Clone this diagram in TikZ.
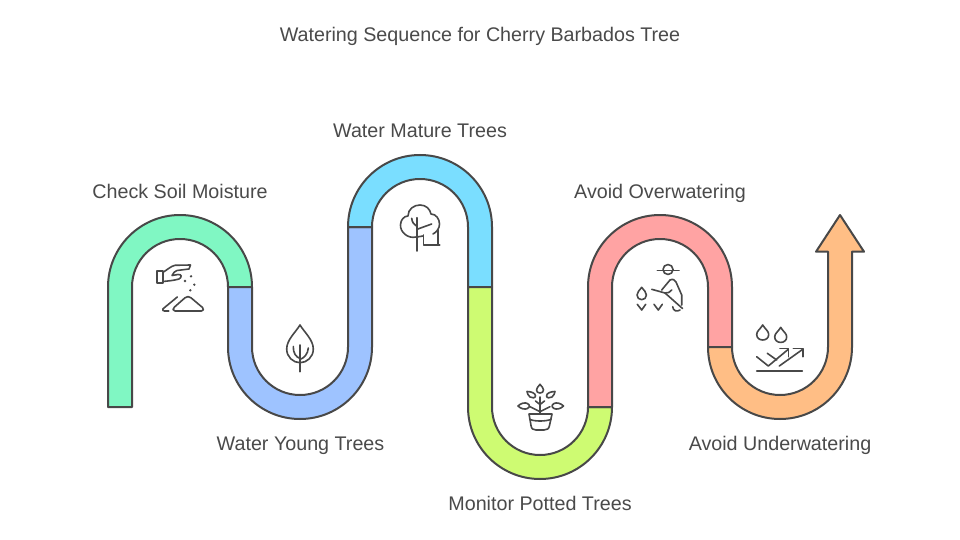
\documentclass[tikz,border=0pt]{standalone}
\usepackage{xcolor}
\usepackage{fontspec}
\setmainfont{Liberation Sans}
\definecolor{ink}{HTML}{484848}
\definecolor{txt}{HTML}{4A4A4A}
\definecolor{mint}{HTML}{80F7C3}
\definecolor{sky}{HTML}{9EC3FF}
\definecolor{aqua}{HTML}{7ADEFF}
\definecolor{lime}{HTML}{CEFB72}
\definecolor{rose}{HTML}{FFA3A3}
\definecolor{peach}{HTML}{FFBE85}
\begin{document}
\begin{tikzpicture}[x=1pt,y=-1pt]
		\tikzstyle{every node}+=[inner sep=0pt]
		\tikzstyle{pipe}=[draw=ink,line width=2pt,line join=round]
		\tikzstyle{icon}=[draw=ink,line width=1.6pt,line cap=round,line join=round]
		\tikzstyle{label}=[text=txt,anchor=base,font=\fontsize{19.7}{23}\selectfont]
		\useasboundingbox [fill=white] (0,0) rectangle (960,540);
		\draw [pipe,fill=mint] (108,407) -- (108,287) arc [start angle=180,end angle=0,radius=72pt] -- (228,287) arc [start angle=0,end angle=180,radius=48pt] -- (132,407) -- cycle;
		\draw [pipe,fill=sky] (228,287) -- (228,347) arc [start angle=180,end angle=360,radius=72pt] -- (372,227) -- (348,227) -- (348,347) arc [start angle=360,end angle=180,radius=48pt] -- (252,287) -- cycle;
		\draw [pipe,fill=aqua] (348,227) arc [start angle=180,end angle=0,radius=72pt] -- (492,287) -- (468,287) -- (468,227) arc [start angle=0,end angle=180,radius=48pt] -- cycle;
		\draw [pipe,fill=lime] (468,287) -- (468,407) arc [start angle=180,end angle=360,radius=72pt] -- (588,407) arc [start angle=360,end angle=180,radius=48pt] -- (492,287) -- cycle;
		\draw [pipe,fill=rose] (588,407) -- (588,287) arc [start angle=180,end angle=0,radius=72pt] -- (732,347) -- (708,347) -- (708,287) arc [start angle=0,end angle=180,radius=48pt] -- (612,407) -- cycle;
		\draw [pipe,fill=peach] (708,347) arc [start angle=180,end angle=360,radius=72pt] -- (852,251.7) -- (864,251.7) -- (840,215) -- (816,251.7) -- (828,251.7) -- (828,347) arc [start angle=360,end angle=180,radius=48pt] -- cycle;
		\draw [icon] (156.7,270.7) rectangle (162.7,283);
		\draw [icon] (162.7,272.5) .. controls (167,270) and (171,266) .. (175,265.3) -- (190.5,265) -- (189,269) -- (177,270.5) .. controls (175,271) and (173,273) .. (172,275.5) -- (178,274.5) .. controls (182,274) and (182,277.5) .. (179,279) .. controls (174,280.5) and (168,281) .. (162.7,281.5);
		\fill [ink] (191,276.3) circle (1.3) (185,281) circle (1.3) (194.3,284.7) circle (1.3) (190.3,290.3) circle (1.3);
		\draw [icon] (175,311) .. controls (172.5,311) and (172.5,308.5) .. (174.5,307) -- (185,297.8) .. controls (187,296.2) and (189,296.2) .. (191,297.8) -- (202.5,307.5) .. controls (204,309) and (203.5,311) .. (201.5,311) -- cycle;
		\draw [icon] (177.3,297) -- (163,308.8) .. controls (162,310) and (163,311) .. (164.5,311) -- (168.7,311);
		\draw [icon] (300,325) .. controls (295,333) and (286.7,340) .. (286.7,349) .. controls (286.7,357) and (293,362.7) .. (300,362.7) .. controls (307,362.7) and (313.3,357) .. (313.3,349) .. controls (313.3,340) and (305,333) .. (300,325) -- cycle;
		\draw [icon] (300,345) -- (300,371.7);
		\draw [icon] (293.3,346.5) .. controls (293,353) and (296,357) .. (300,358.5);
		\draw [icon] (308.3,348) .. controls (308,354) and (304,358) .. (300,359.5);
		\draw [icon] (416,237) .. controls (408,239) and (400,232) .. (400.5,225) .. controls (400.5,220) and (404,216) .. (408,216) .. controls (408,209) and (414,205) .. (420,205) .. controls (426,205) and (430,209) .. (431,214) .. controls (436,214) and (439.5,219) .. (439.5,224) .. controls (439.5,228) and (437,232) .. (433,234);
		\draw [icon] (417,217.7) -- (417,251);
		\draw [icon] (417,229.3) -- (431.7,224);
		\draw [icon] (411.7,218.3) .. controls (412,222) and (414,225) .. (417,226.5);
		\draw [icon] (423.3,235) -- (423.3,245) -- (439.7,245);
		\draw [icon] (437.7,230) -- (437.7,245);
		\draw [icon] (417,237) -- (423,236);
		\draw [icon] (540,384.3) .. controls (542,386.5) and (543.5,388.5) .. (543.5,390) .. controls (543.5,392) and (542,393) .. (540,393) .. controls (538,393) and (536.5,392) .. (536.5,390) .. controls (536.5,388.5) and (538,386.5) .. (540,384.3) -- cycle;
		\draw [icon] (527,391.5) .. controls (531,391.5) and (535.5,393) .. (535.5,396) .. controls (535.5,398) and (532,398.5) .. (530,397) .. controls (528,395.5) and (527.5,393.5) .. (527,391.5) -- cycle;
		\draw [icon] (555,391.5) .. controls (551,391.5) and (546.5,393) .. (546.5,396) .. controls (546.5,398) and (550,398.5) .. (552,397) .. controls (554,395.5) and (554.5,393.5) .. (555,391.5) -- cycle;
		\draw [icon] (518,406) .. controls (521,403) and (525,402.3) .. (527.5,403.5) .. controls (530,405) and (530,407) .. (527.5,408.5) .. controls (525,409.7) and (521,409) .. (518,406) -- cycle;
		\draw [icon] (563.5,406) .. controls (560.5,403) and (556.5,402.3) .. (554,403.5) .. controls (551.5,405) and (551.5,407) .. (554,408.5) .. controls (556.5,409.7) and (560.5,409) .. (563.5,406) -- cycle;
		\draw [icon] (540,397) -- (540,414);
		\draw [icon] (530,406.7) -- (540,411.7) -- (550,406.7);
		\draw [icon] (535.5,401) -- (540,404.5) -- (544.5,401);
		\draw [icon] (529,414) -- (552,414) -- (549.5,425.5) .. controls (549,428.8) and (547,430) .. (544,430) -- (536,430) .. controls (533,430) and (531.5,428.8) .. (531,425.5) -- cycle;
		\draw [icon] (530,419.5) .. controls (535,421.5) and (545,421.5) .. (551,419.5);
		\draw [icon] (657.3,270.3) -- (679,270.3);
		\draw [icon] (668,269.5) circle (5);
		\draw [icon] (670,280) -- (661.7,290);
		\draw [icon] (670,280) .. controls (673,278.5) and (675,280) .. (676,282) -- (681.7,295) -- (681.7,305);
		\draw [icon] (651.7,289.3) -- (665,293) .. controls (668,293.5) and (670,292) .. (671.7,290);
		\draw [icon] (665,293) -- (682.5,308.5);
		\draw [icon] (672.7,306.7) .. controls (673,311) and (677,312) .. (680,310);
		\draw [icon] (641.7,287.3) .. controls (639.5,290.5) and (637,292) .. (637,295) .. controls (637,297.7) and (639,299.7) .. (641.7,299.7) .. controls (644.4,299.7) and (646.4,297.7) .. (646.4,295) .. controls (646.4,292) and (643.9,290.5) .. (641.7,287.3) -- cycle;
		\draw [icon] (637.3,304.3) -- (641.7,310) -- (645.7,304.3);
		\draw [icon] (654,304.3) -- (658.3,310) -- (662.3,304.3);
		\draw [icon] (762.7,325) .. controls (760,329.5) and (756.7,331) .. (756.7,334.5) .. controls (756.7,338) and (759.5,340) .. (762.7,340) .. controls (765.9,340) and (768.7,338) .. (768.7,334.5) .. controls (768.7,331) and (765.4,329.5) .. (762.7,325) -- cycle;
		\draw [icon] (780.7,327.4) .. controls (778,331.9) and (774.7,333.4) .. (774.7,336.9) .. controls (774.7,340.4) and (777.5,342.4) .. (780.7,342.4) .. controls (783.9,342.4) and (786.7,340.4) .. (786.7,336.9) .. controls (786.7,333.4) and (783.4,331.9) .. (780.7,327.4) -- cycle;
		\draw [icon] (756.7,370.7) -- (802.3,370.7);
		\draw [icon] (756.7,356.7) -- (768.3,366) -- (788.3,349.3);
		\draw [icon] (780,348.3) -- (788.3,348.3) -- (788.3,356.7);
		\draw [icon] (767.3,353.3) -- (776.7,360);
		\draw [icon] (779.3,366) -- (802.7,349.3);
		\draw [icon] (793.3,348.3) -- (802.7,348.3) -- (802.7,356.7);
		\node [label] (title) at (480,42) {Watering Sequence for Cherry Barbados Tree};
		\node [label] (moisture) at (180,198) {Check Soil Moisture};
		\node [label] (young) at (300.5,450) {Water Young Trees};
		\node [label] (mature) at (420,138) {Water Mature Trees};
		\node [label] (potted) at (540,510) {Monitor Potted Trees};
		\node [label] (overwater) at (660,198) {Avoid Overwatering};
		\node [label] (underwater) at (780,450) {Avoid Underwatering};
\end{tikzpicture}
\end{document}
